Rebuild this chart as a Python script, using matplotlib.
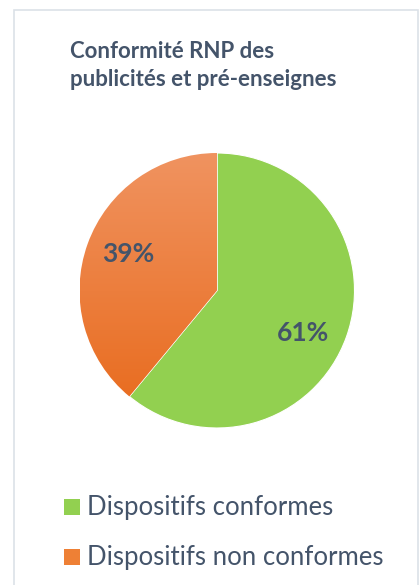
import numpy as np
import matplotlib
matplotlib.use("Agg")
import matplotlib.pyplot as plt
from matplotlib.patches import Rectangle
from matplotlib.colors import LinearSegmentedColormap

title_lines = ["Conformité RNP des", "publicités et pré-enseignes"]
categories = ["Dispositifs conformes", "Dispositifs non conformes"]
values = [61, 39]
colors = ["#92D050", "#ED7D31"]
text_color = "#44546A"

W, H = 419, 585
plt.rcParams['font.family'] = ['Lato', 'DejaVu Sans']


def fx(x):
    return x / W


def fy(y):
    return 1 - y / H


fig = plt.figure(figsize=(W / 100, H / 100), dpi=100)
fig.patch.set_facecolor("white")

# chart frame
fig.add_artist(Rectangle((fx(14), fy(600)), fx(418) - fx(14), fy(10) - fy(600),
                         transform=fig.transFigure, fill=False,
                         edgecolor="#DCE1E8", lw=1.2))

# title
for i, line in enumerate(title_lines):
    fig.text(fx(70), fy(58 + 28 * i), line, fontsize=16, fontweight="bold",
             color=text_color, ha="left", va="baseline")

# pie
cx, cy, r = 217, 290.5, 137.5
ax = fig.add_axes([fx(cx - r), fy(cy + r), (2 * r) / W, (2 * r) / H])
wedges, _ = ax.pie(values, colors=colors, startangle=90, counterclock=False,
                   wedgeprops=dict(edgecolor="white", linewidth=0.8))

# gradient on the orange slice
cmap = LinearSegmentedColormap.from_list("og", ["#E8691A", "#F09360"])
grad = np.linspace(0, 1, 256).reshape(-1, 1)
im = ax.imshow(grad, cmap=cmap, extent=(-1, 1, -1, 1), origin="lower",
               aspect="auto", zorder=wedges[1].get_zorder())
im.set_clip_path(wedges[1])
wedges[1].set_facecolor("none")
ax.set_xlim(-1, 1)
ax.set_ylim(-1, 1)
ax.set_axis_off()

# percentage labels
fig.text(fx(128), fy(254), f"{values[1]}%", fontsize=19, fontweight="bold",
         color=text_color, ha="center", va="center")
fig.text(fx(303), fy(333), f"{values[0]}%", fontsize=19, fontweight="bold",
         color=text_color, ha="center", va="center")

# legend
leg_colors = ["#92D050", "#EE8035"]
for i, (lab, c) in enumerate(zip(categories, leg_colors)):
    yc = 507 + 50 * i
    fig.add_artist(Rectangle((fx(64), fy(yc + 8)), 16 / W, 16 / H,
                             transform=fig.transFigure, facecolor=c,
                             edgecolor="none"))
    fig.text(fx(87), fy(yc), lab, fontsize=18.5, color=text_color,
             ha="left", va="center")

fig.savefig("out.png", dpi=100)
